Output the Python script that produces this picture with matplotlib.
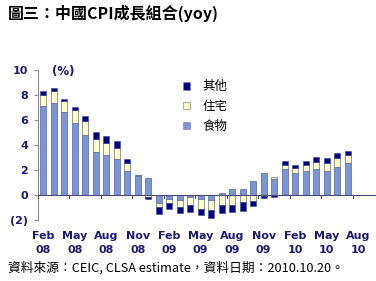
import numpy as np
import matplotlib
matplotlib.use("Agg")
import matplotlib.pyplot as plt
from matplotlib.patches import Patch

plt.rcParams['font.family'] = ['DejaVu Sans', 'Noto Sans CJK TC']
CJK = ['Noto Sans CJK TC', 'DejaVu Sans']

# monthly yoy contributions, Feb 08 .. Aug 10 (Aug 10 has no data yet)
food = [7.1, 7.4, 6.65, 5.8, 4.8, 3.45, 3.2, 2.9, 1.95, 1.5, 1.35,
        -0.61, -0.32, -0.4, -0.19, -0.35, -0.43, 0.19, 0.48, 0.48, 1.1,
        1.79, 1.3, 2.05, 1.8, 1.95, 2.08, 1.92, 2.24, 2.6, np.nan]
housing = [0.9, 0.9, 0.9, 1.0, 1.1, 1.05, 1.0, 0.9, 0.65, 0.08, -0.19,
           -0.32, -0.35, -0.56, -0.61, -0.74, -0.77, -0.8, -0.8, -0.53, -0.5,
           -0.05, 0.15, 0.35, 0.33, 0.45, 0.6, 0.67, 0.75, 0.57, np.nan]
other = [0.3, 0.25, 0.13, 0.25, 0.43, 0.55, 0.5, 0.55, 0.3, 0.02, -0.15,
         -0.62, -0.48, -0.51, -0.53, -0.54, -0.61, -0.67, -0.59, -0.72, -0.37,
         -0.2, -0.18, 0.3, 0.25, 0.3, 0.35, 0.34, 0.37, 0.38, np.nan]
series = [("食物", food, "#7b95d6"), ("住宅", housing, "#ffffc4"), ("其他", other, "#000080")]

tick_labels = ["Feb\n08", "May\n08", "Aug\n08", "Nov\n08", "Feb\n09", "May\n09",
               "Aug\n09", "Nov\n09", "Feb\n10", "May\n10", "Aug\n10"]
yticks = [-2, 0, 2, 4, 6, 8, 10]
ytick_labels = ["(2)", "0", "2", "4", "6", "8", "10"]

navy = "#1c1c6e"

fig = plt.figure(figsize=(3.76, 2.81), dpi=100)
ax = fig.add_axes([38 / 376, 61 / 281, 338 / 376, 150 / 281])

x = np.arange(len(food))
pos = np.zeros(len(x))
neg = np.zeros(len(x))
handles = []
for name, vals, col in series:
    v = np.array(vals, dtype=float)
    bottom = np.where(v >= 0, pos, neg)
    ax.bar(x, v, 0.58, bottom=bottom, color=col, edgecolor="#3a4a8a",
           linewidth=0.4, zorder=2)
    pos = np.where(v >= 0, pos + np.nan_to_num(v), pos)
    neg = np.where(v < 0, neg + np.nan_to_num(v), neg)
    handles.append(Patch(facecolor=col, edgecolor="#888899", linewidth=0.5, label=name))

ax.set_xlim(-0.5, 31.7)
ax.set_ylim(-2, 10)
ax.axhline(0, color="#4a4a7a", lw=0.8, zorder=3)
for b in np.arange(-0.5, len(x) - 1, 3):
    ax.plot([b, b], [0, -0.22], color="#4a4a7a", lw=0.8, zorder=3)

for s in ["top", "right", "bottom"]:
    ax.spines[s].set_visible(False)
ax.spines["left"].set_color("#8a8aa0")
ax.spines["left"].set_linewidth(0.8)

ax.set_yticks(yticks, ytick_labels)
ax.tick_params(axis="y", length=3, color="#8a8aa0", pad=4,
               labelsize=8, labelcolor=navy)
ax.set_xticks(x[::3], tick_labels)
ax.tick_params(axis="x", length=0, pad=8, labelsize=8, labelcolor=navy)
for t in ax.get_xticklabels() + ax.get_yticklabels():
    t.set_fontweight("bold")
for t in ax.get_xticklabels():
    t.set_linespacing(1.45)

fig.text(52 / 376, 1 - 71 / 281, "(%)", fontsize=8.5, fontweight="bold",
         color=navy, va="center", ha="left")

fig.legend(handles=handles[::-1], loc="upper left",
           bbox_to_anchor=(172 / 376, 1 - 69 / 281), frameon=False,
           handlelength=0.55, handleheight=0.55, handletextpad=1.0,
           labelspacing=0.55, prop={"family": CJK, "size": 9})

fig.text(8 / 376, 1 - 13 / 281, "圖三：中國CPI成長組合(yoy)", family=CJK,
         fontsize=11.5, fontweight="bold", va="center", ha="left")
fig.text(8 / 376, 1 - 268 / 281,
         "資料來源：CEIC, CLSA estimate，資料日期：2010.10.20。",
         family=CJK, fontsize=9.2, va="center", ha="left")

fig.savefig("out.png", dpi=100)
